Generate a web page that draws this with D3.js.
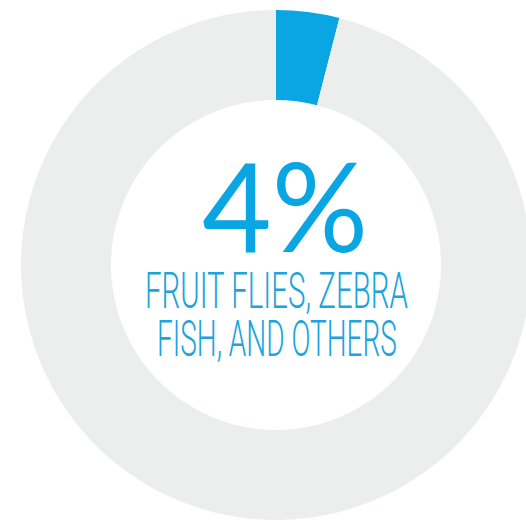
<!DOCTYPE html>
<html>
<head>
<meta charset="utf-8">
<script src="https://cdn.jsdelivr.net/npm/d3@7"></script>
<style>
  html, body { margin: 0; padding: 0; background: #ffffff; }
  svg { display: block; }
</style>
</head>
<body>
<svg id="chart" width="526" height="522"></svg>
<script>
// Data
const categories = ["Fruit flies, zebra fish, and others", "Other research animals"];
const values = [4, 96];
const colors = ["#0aa6e4", "#eceeee"];
const bigLabel = "4%";
const labelLines = ["FRUIT FLIES, ZEBRA", "FISH, AND OTHERS"];

const svg = d3.select("#chart");
const cx = 276, cy = 265, outerR = 255, innerR = 165;

const pie = d3.pie().sort(null).value(d => d.value).startAngle(0).endAngle(2 * Math.PI);
const arc = d3.arc().innerRadius(innerR).outerRadius(outerR);
const color = d3.scaleOrdinal().domain(categories).range(colors);

const data = categories.map((c, i) => ({ category: c, value: values[i] }));

const g = svg.append("g").attr("transform", `translate(${cx},${cy})`);
g.selectAll("path")
  .data(pie(data))
  .join("path")
  .attr("d", arc)
  .attr("fill", d => color(d.data.category));

// Helper: place text at (x, baseline y), horizontally scaled to a target width
function fitText(str, x, y, width, size, family, weight, fill) {
  const t = svg.append("text")
    .attr("font-family", family)
    .attr("font-weight", weight)
    .attr("font-size", size)
    .attr("fill", fill)
    .text(str);
  const natural = t.node().getComputedTextLength();
  const sx = width / natural;
  t.attr("transform", `translate(${x},${y}) scale(${sx},1)`);
  return t;
}

fitText(bigLabel, 202, 252, 166, 124, "Lato, 'Open Sans', sans-serif", 400, "#0aa6e4");

const lineX = [145, 157];
const lineY = [308, 356];
const lineW = [263, 240];
labelLines.forEach((t, i) => {
  fitText(t, lineX[i], lineY[i], lineW[i], 50, "Roboto, 'Open Sans', sans-serif", 300, "#1ba4dd");
});
</script>
</body>
</html>
